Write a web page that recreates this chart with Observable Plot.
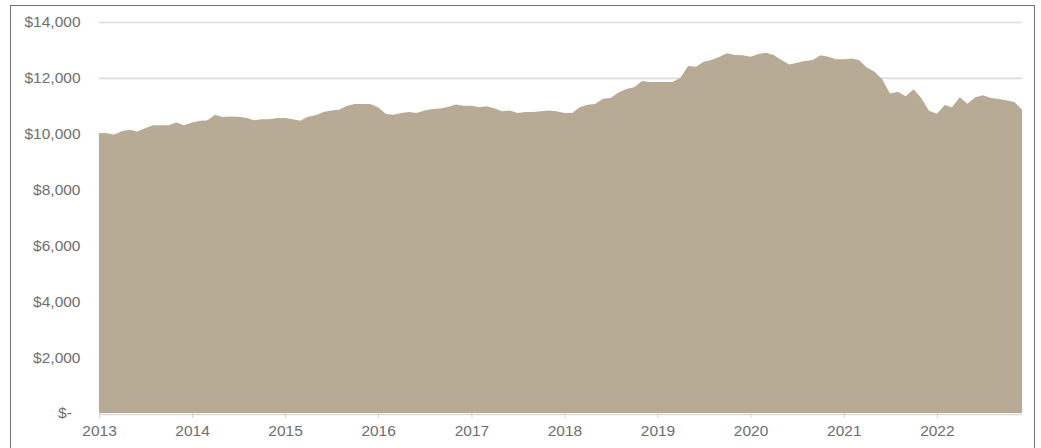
<!DOCTYPE html>
<html>
<head>
<meta charset="utf-8">
<script src="https://cdn.jsdelivr.net/npm/d3@7"></script>
<script src="https://cdn.jsdelivr.net/npm/@observablehq/plot@0.6"></script>
<style>
  html, body { margin: 0; padding: 0; background: #fff; }
  #wrap { position: relative; width: 1041px; height: 448px; overflow: hidden; }
  #frame { position: absolute; left: 10px; top: 5px; width: 1025px; height: 460px;
           border: 1.5px solid #707070; border-bottom: none; pointer-events: none; box-sizing: border-box; }
</style>
</head>
<body>
<div id="wrap"><div id="frame"></div></div>
<script>
// Monthly values, Jan 2013 – Dec 2022
const startMonth = "2013-01-01";
const values = [
  10030, 10020, 9950, 10100, 10140, 10080, 10200, 10300, 10300, 10300, 10400, 10300,
  10400, 10460, 10470, 10680, 10600, 10620, 10610, 10575, 10480, 10515, 10520, 10560,
  10560, 10520, 10465, 10610, 10660, 10780, 10835, 10860, 11005, 11065, 11065, 11065,
  10945, 10705, 10680, 10740, 10780, 10740, 10835, 10885, 10900, 10955, 11050, 11000,
  11000, 10945, 10980, 10910, 10800, 10830, 10740, 10780, 10780, 10800, 10835, 10800,
  10740, 10740, 10945, 11040, 11065, 11255, 11280, 11480, 11605, 11660, 11890, 11855,
  11855, 11855, 11855, 12000, 12425, 12400, 12580, 12640, 12760, 12880, 12820, 12810,
  12760, 12855, 12900, 12820, 12640, 12480, 12545, 12605, 12640, 12810, 12760, 12665,
  12665, 12690, 12640, 12375, 12225, 11940, 11440, 11500, 11345, 11595, 11280, 10825,
  10715, 11030, 10945, 11305, 11075, 11305, 11375, 11280, 11245, 11195, 11140, 10860
];
const yTicks = [0, 2000, 4000, 6000, 8000, 10000, 12000, 14000];
const xTickYears = ["2013","2014","2015","2016","2017","2018","2019","2020","2021","2022"];

const start = new Date(startMonth + "T00:00:00Z");
const data = values.map((v, i) => ({ date: d3.utcMonth.offset(start, i), value: v }));
const xTicks = xTickYears.map(y => new Date(y + "-01-01T00:00:00Z"));
const fmt = d3.format(",");

const chart = Plot.plot({
  width: 1041,
  height: 448,
  marginLeft: 99,
  marginRight: 19,
  marginTop: 22,
  marginBottom: 35,
  style: { fontFamily: "'Liberation Sans', Arial, sans-serif", fontSize: "15.5px", color: "#6e6e6e", background: "transparent" },
  x: { type: "utc", domain: [data[0].date, data[data.length - 1].date] },
  y: { domain: [0, 14000] },
  marks: [
    Plot.ruleY(yTicks.slice(1), { stroke: "#dcdcdc", strokeWidth: 1.6 }),
    Plot.areaY(data, { x: "date", y: "value", fill: "#b7ab95" }),
    Plot.ruleY([0], { stroke: "#d9d9d9", strokeWidth: 1.6, dy: 1 }),
    Plot.axisY({ ticks: yTicks, tickSize: 0, tickPadding: 19, fill: "#6e6e6e", label: null,
                 tickFormat: d => d === 0 ? "$-\u2007" : "$" + fmt(d) }),
    Plot.axisX({ ticks: xTicks, tickFormat: "%Y", tickSize: 5, tickPadding: 6, label: null,
                 stroke: "#d4d4d4", fill: "#6e6e6e" })
  ]
});
document.getElementById("wrap").prepend(chart);
</script>
</body>
</html>
